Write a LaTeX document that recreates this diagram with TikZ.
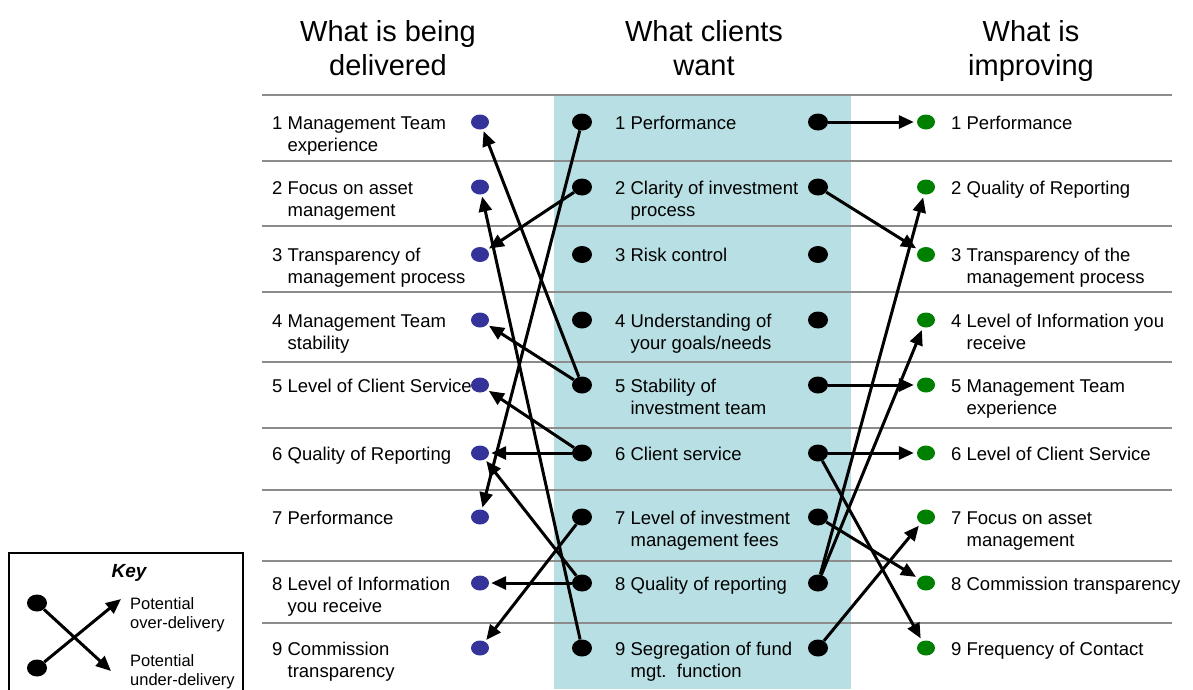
\documentclass[tikz,border=0pt]{standalone}
\usepackage{fontspec}
\setmainfont{Liberation Sans}
\usetikzlibrary{arrows.meta,shapes.geometric}
\definecolor{bandcol}{RGB}{184,223,227}
\definecolor{dotblue}{RGB}{51,51,153}
\definecolor{dotgreen}{RGB}{0,128,0}
\definecolor{rulegray}{RGB}{140,140,140}
\newcommand{\itemtwo}[3]{\begin{tabular}[t]{@{}l@{\ }l@{}}#1&#2\\&#3\end{tabular}}
\newcommand{\itemone}[2]{\begin{tabular}[t]{@{}l@{\ }l@{}}#1&#2\end{tabular}}
\newcommand{\headtwo}[2]{\begin{tabular}[t]{@{}c@{}}#1\\#2\end{tabular}}
\tikzset{
  bluedot/.style={ellipse,fill=dotblue,minimum width=18pt,minimum height=15pt,inner sep=0pt},
  greendot/.style={ellipse,fill=dotgreen,minimum width=18pt,minimum height=15pt,inner sep=0pt},
  blackdot/.style={ellipse,fill=black,minimum width=20pt,minimum height=17pt,inner sep=0pt},
  itemtext/.style={anchor=base west,inner sep=0pt,font=\fontsize{18.5}{22}\selectfont},
  headtext/.style={anchor=base,inner sep=0pt,font=\fontsize{29}{34}\selectfont},
  keytext/.style={anchor=base west,inner sep=0pt,font=\fontsize{16.5}{18.5}\selectfont},
  rowrule/.style={draw=rulegray,line width=2pt},
  conn/.style={line width=3pt,-{Triangle[length=15pt,width=13pt]}},
  toleft/.style={conn,shorten >=2pt},
  toright/.style={conn,shorten >=3pt},
}
\begin{document}
\begin{tikzpicture}[x=1pt,y=-1pt]
\useasboundingbox (0,0) rectangle (1193,689);
\clip (0,0) rectangle (1193,689);
% band and rules
\fill[bandcol] (554,95) rectangle (851,689);
\foreach \yy in {95,160.5,226,292,361.5,428,489.5,560.5,623}
  \draw[rowrule] (262,\yy) -- (1172,\yy);
% headers
\node[headtext] (h1) at (388,41.5) {\headtwo{What is being}{delivered}};
\node[headtext] (h2) at (704,41.5) {\headtwo{What clients}{want}};
\node[headtext] (h3) at (1031,41.5) {\headtwo{What is}{improving}};
% left column texts
\node[itemtext] (tl1) at (272,129) {\itemtwo{1}{Management Team}{experience}};
\node[itemtext] (tl2) at (272,194) {\itemtwo{2}{Focus on asset}{management}};
\node[itemtext] (tl3) at (272,261.5) {\itemtwo{3}{Transparency of}{management process}};
\node[itemtext] (tl4) at (272,327) {\itemtwo{4}{Management Team}{stability}};
\node[itemtext] (tl5) at (272,392) {\itemone{5}{Level of Client Service}};
\node[itemtext] (tl6) at (272,460) {\itemone{6}{Quality of Reporting}};
\node[itemtext] (tl7) at (272,524) {\itemone{7}{Performance}};
\node[itemtext] (tl8) at (272,590) {\itemtwo{8}{Level of Information}{you receive}};
\node[itemtext] (tl9) at (272,655) {\itemtwo{9}{Commission}{transparency}};
% middle column texts
\node[itemtext] (tc1) at (615,129) {\itemone{1}{Performance}};
\node[itemtext] (tc2) at (615,194) {\itemtwo{2}{Clarity of investment}{process}};
\node[itemtext] (tc3) at (615,261.5) {\itemone{3}{Risk control}};
\node[itemtext] (tc4) at (615,327) {\itemtwo{4}{Understanding of}{your goals/needs}};
\node[itemtext] (tc5) at (615,392) {\itemtwo{5}{Stability of}{investment team}};
\node[itemtext] (tc6) at (615,460) {\itemone{6}{Client service}};
\node[itemtext] (tc7) at (615,524) {\itemtwo{7}{Level of investment}{management fees}};
\node[itemtext] (tc8) at (615,590) {\itemone{8}{Quality of reporting}};
\node[itemtext] (tc9) at (615,655) {\itemtwo{9}{Segregation of fund}{mgt.\ \ function}};
% right column texts
\node[itemtext] (tr1) at (951,129) {\itemone{1}{Performance}};
\node[itemtext] (tr2) at (951,194) {\itemone{2}{Quality of Reporting}};
\node[itemtext] (tr3) at (951,261.5) {\itemtwo{3}{Transparency of the}{management process}};
\node[itemtext] (tr4) at (951,327) {\itemtwo{4}{Level of Information you}{receive}};
\node[itemtext] (tr5) at (951,392) {\itemtwo{5}{Management Team}{experience}};
\node[itemtext] (tr6) at (951,460) {\itemone{6}{Level of Client Service}};
\node[itemtext] (tr7) at (951,524) {\itemtwo{7}{Focus on asset}{management}};
\node[itemtext] (tr8) at (951,590) {\itemone{8}{Commission transparency}};
\node[itemtext] (tr9) at (951,655) {\itemone{9}{Frequency of Contact}};
% dots
\foreach \i/\yy in {1/122,2/187,3/254.5,4/320,5/385,6/453,7/517,8/583,9/648}{
  \node[bluedot] (L\i) at (480,\yy) {};
  \node[blackdot] (C\i) at (582,\yy) {};
  \node[blackdot] (D\i) at (818,\yy) {};
  \node[greendot] (G\i) at (926,\yy) {};
}
% left connectors
\draw[toleft] (C5) -- (L1);
\draw[toleft] (C9) -- (L2);
\draw[toleft] (C2) -- (L3);
\draw[toleft] (C5) -- (L4);
\draw[toleft] (C1) -- (L7);
\draw[toleft] (C6) -- (L5);
\draw[toleft] (C6) -- (L6);
\draw[toleft] (C8) -- (L6);
\draw[toleft] (C8) -- (L8);
\draw[toleft] (C7) -- (L9);
% right connectors
\draw[toright] (D1) -- (G1);
\draw[toright] (D2) -- (G3);
\draw[toright] (D5) -- (G5);
\draw[toright] (D6) -- (G6);
\draw[toright] (D6) -- (G9);
\draw[toright] (D7) -- (G8);
\draw[toright] (D8) -- (G2);
\draw[toright] (D8) -- (G4);
\draw[toright] (D9) -- (G7);
% key
\draw[line width=1.3pt] (9,553) rectangle (243,700);
\node[anchor=base,inner sep=0pt,font=\fontsize{19}{22}\selectfont\bfseries\itshape] (keyt) at (129,577) {Key};
\node[blackdot] (K1) at (37,603) {};
\node[blackdot] (K2) at (37,668) {};
\coordinate (KU) at (121,599);
\coordinate (KD) at (111,671);
\draw[conn] (K1) -- (KD);
\draw[conn] (K2) -- (KU);
\node[keytext] (kt1) at (130,609.5) {\begin{tabular}[t]{@{}l@{}}Potential\\over-delivery\end{tabular}};
\node[keytext] (kt2) at (130,666.5) {\begin{tabular}[t]{@{}l@{}}Potential\\under-delivery\end{tabular}};
\end{tikzpicture}
\end{document}
